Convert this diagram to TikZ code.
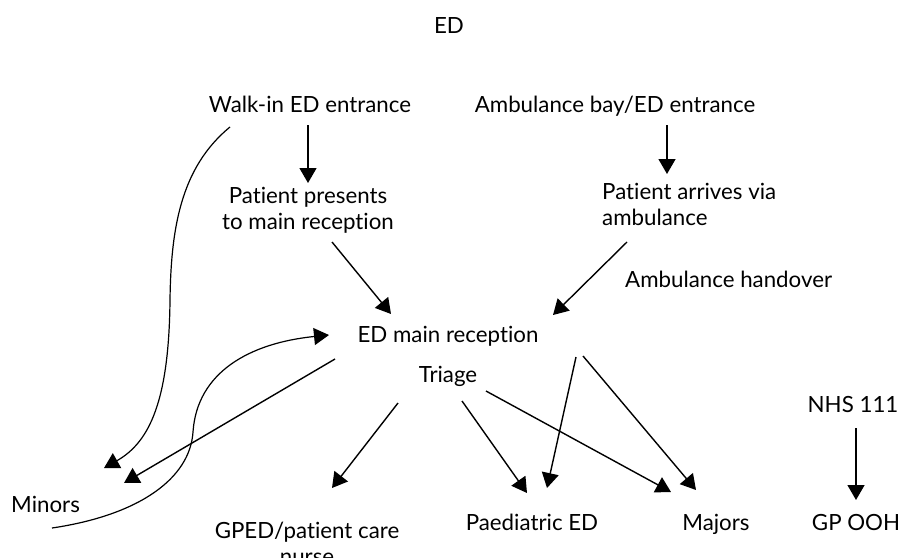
\documentclass[tikz,border=0pt]{standalone}
\usepackage{fontspec}
\setmainfont{Lato}[Ligatures=CommonOff]
\usetikzlibrary{arrows.meta}
\begin{document}
\begin{tikzpicture}[x=1pt,y=-1pt,
  lbl/.style={inner sep=0pt,anchor=base,font=\fontsize{22.3}{26}\selectfont},
  lblw/.style={lbl,anchor=base west},
  arr/.style={line width=1.4pt,-{Triangle[length=15pt,width=17pt]}},
  crv/.style={line width=1.2pt,-{Triangle[length=15pt,width=17pt]}}]
\useasboundingbox (0,0) rectangle (902,557);
\fill[white] (0,0) rectangle (902,557);
% texts
\node[lbl] (title) at (449,33) {ED};
\node[lbl] (walk) at (310,112) {Walk-in ED entrance};
\node[lbl] (amb) at (615,112) {Ambulance bay/ED entrance};
\node[lbl,align=center] (pres) at (308,229) {Patient presents\\to main reception};
\node[lblw,align=left] (arr1) at (602,225) {Patient arrives via\\ambulance};
\node[lblw] (hand) at (625,287) {Ambulance handover};
\node[lbl] (edm) at (448,342) {ED main reception};
\node[lbl] (tri) at (448,382) {Triage};
\node[lbl] (nhs) at (853,412) {NHS 111};
\node[lblw] (min) at (11,512) {Minors};
\node[lbl,align=center] (gped) at (307,564) {GPED/patient care\\nurse};
\node[lbl] (paed) at (532,530) {Paediatric ED};
\node[lbl] (maj) at (716,530) {Majors};
\node[lbl] (gp) at (856,530) {GP OOH};
% connector end points
\coordinate (walkS) at (308,125);
\coordinate (presN) at (308,183);
\coordinate (ambS) at (667,125);
\coordinate (arrN) at (667,174);
\coordinate (presS) at (332,242);
\coordinate (edmNW) at (391,314);
\coordinate (arrS) at (627,242);
\coordinate (edmNE) at (553,315);
\coordinate (edmSW) at (335,359);
\coordinate (minA) at (124,483);
\coordinate (minB) at (104,468);
\coordinate (walkW) at (230,127);
\coordinate (minC) at (52,528);
\coordinate (edmW) at (329,335);
\coordinate (triSW) at (398,403);
\coordinate (gpedN) at (332,488);
\coordinate (triS) at (462,401);
\coordinate (paedA) at (527,493);
\coordinate (triSE) at (486,391);
\coordinate (majA) at (671,492);
\coordinate (edmSE1) at (576,357);
\coordinate (paedB) at (547,488);
\coordinate (edmSE2) at (583,356);
\coordinate (majB) at (696,490);
\coordinate (nhsS) at (856,428);
\coordinate (gpN) at (856,500);
% connectors
\draw[arr] (walkS) -- (presN);
\draw[arr] (ambS) -- (arrN);
\draw[arr] (presS) -- (edmNW);
\draw[arr] (arrS) -- (edmNE);
\draw[arr] (edmSW) -- (minA);
\draw[crv] (walkW) .. controls (180,168) and (171,230) .. (170,300)
  .. controls (169,400) and (150,442) .. (minB);
\draw[crv] (minC) .. controls (140,515) and (190,478) .. (193,432)
  .. controls (197,372) and (250,343) .. (edmW);
\draw[arr] (triSW) -- (gpedN);
\draw[arr] (triS) -- (paedA);
\draw[arr] (triSE) -- (majA);
\draw[arr] (edmSE1) -- (paedB);
\draw[arr] (edmSE2) -- (majB);
\draw[arr] (nhsS) -- (gpN);
\end{tikzpicture}
\end{document}
